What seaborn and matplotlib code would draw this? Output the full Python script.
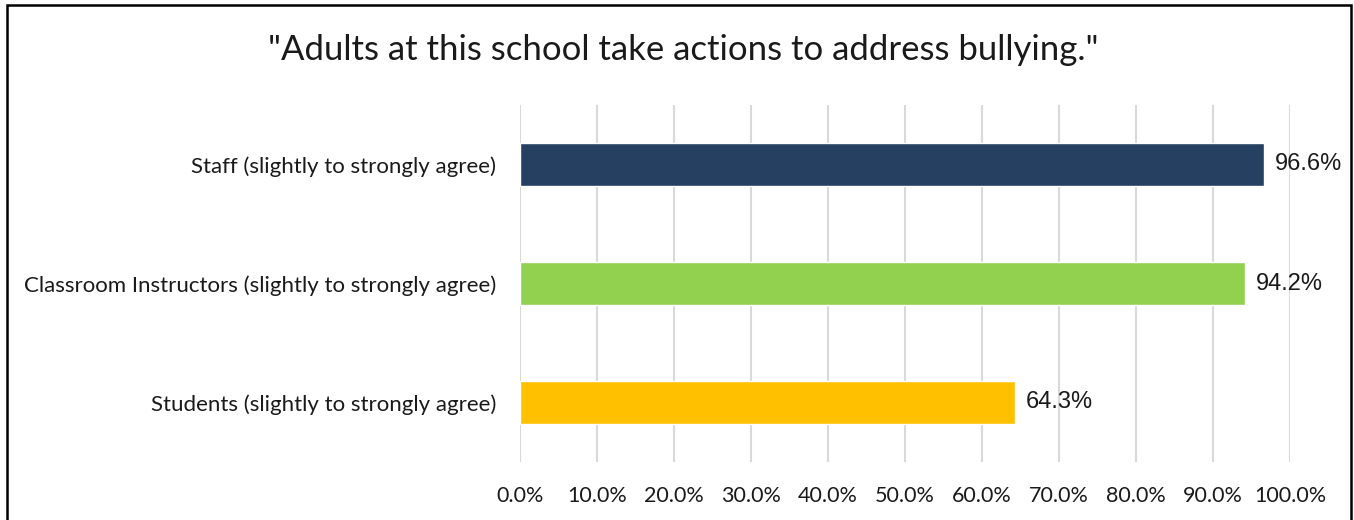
import matplotlib
matplotlib.use("Agg")
import matplotlib.pyplot as plt
import seaborn as sns
import pandas as pd
from matplotlib.patches import Rectangle

categories = ["Staff (slightly to strongly agree)",
              "Classroom Instructors (slightly to strongly agree)",
              "Students (slightly to strongly agree)"]
values = [96.6, 94.2, 64.3]
colors = ["#264061", "#92D050", "#FFC000"]
xticks = [0, 10, 20, 30, 40, 50, 60, 70, 80, 90, 100]
title = "\"Adults at this school take actions to address bullying.\""

sns.set_theme(style="white")
plt.rcParams['font.family'] = ['Lato', 'DejaVu Sans']

df = pd.DataFrame({"cat": categories, "val": values})

fig = plt.figure(figsize=(13.54, 5.2), dpi=100)
ax = fig.add_axes([520/1354, 1-462/520, (1290-520)/1354, (462-105)/520])

sns.barplot(data=df, x="val", y="cat", hue="cat", palette=colors, legend=False,
            width=0.36, ax=ax, saturation=1, zorder=3)

ax.set_xlim(0, 100)
ax.set_ylim(2.5, -0.5)
ax.set_xticks(xticks)
ax.set_xticklabels([f"{t:.1f}%" for t in xticks], fontsize=15.5, color="#1a1a1a")
ax.tick_params(axis='x', length=0, pad=17)
ax.tick_params(axis='y', length=0, pad=17)
for lab in ax.get_yticklabels():
    lab.set_fontsize(16)
    lab.set_color("#1a1a1a")
ax.set_xlabel("")
ax.set_ylabel("")
ax.grid(axis='x', color="#d9d9d9", linewidth=1.5, zorder=0)
ax.grid(axis='y', visible=False)
for s in ax.spines.values():
    s.set_visible(False)

for i, v in enumerate(values):
    ax.text(v + 1.4, i, f"{v:.1f}%", va="center", ha="left", fontsize=17,
            family="Liberation Sans", color="#1a1a1a")

fig.text(683/1354, 1-50/520, title, ha="center", va="center", fontsize=25,
         color="#1a1a1a")

fig.patches.append(Rectangle((7/1354, -0.02), (1351-7)/1354, 1-5/520+0.02,
                             transform=fig.transFigure, fill=False,
                             edgecolor="black", linewidth=1.8))

fig.savefig("out.png", dpi=100)
